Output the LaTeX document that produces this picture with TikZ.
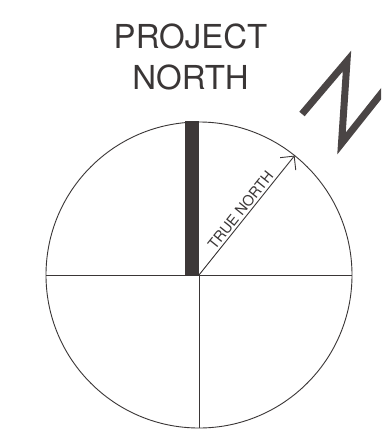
\documentclass[tikz,border=0pt]{standalone}
\usepackage{fontspec}
\setmainfont{TeX Gyre Heros}
\usetikzlibrary{arrows.meta}
\definecolor{ink}{HTML}{3A3636}
\definecolor{barink}{HTML}{3D3838}
\definecolor{nink}{HTML}{4A4545}
\tikzset{
  thinline/.style={draw=ink, line width=0.9pt},
  titletext/.style={text=ink, font=\fontsize{33}{41}\selectfont, inner sep=0pt},
  labeltext/.style={text=ink, font=\fontsize{14.5}{16}\selectfont, inner sep=2pt},
  bigN/.style={draw=nink, line width=7pt, line join=miter, miter limit=10, line cap=butt}
}
\begin{document}
\begin{tikzpicture}[x=1pt,y=-1pt]
\useasboundingbox (0,0) rectangle (381,440);
\fill[white] (0,0) rectangle (381,440);
\begin{scope}
\clip (0,0) rectangle (381,440);
% title
\node[titletext, anchor=base] (p1) at (190.5,48) {PROJECT};
\node[titletext, anchor=base] (p2) at (190.5,89) {NORTH};
% big N
\draw[bigN] (302,114) -- (347,61) -- (341.5,143.5) -- (388,85);
% circle and axes
\coordinate (c) at (199,275);
\coordinate (w) at (46,275);
\coordinate (e) at (352,275);
\coordinate (s) at (199,428);
\coordinate (tip) at (294.6,155.6);
\fill[barink] (185,121) rectangle (198.5,275);
\draw[thinline] (c) circle[radius=153pt];
\draw[thinline] (w) -- (e);
\draw[thinline] (c) -- (s);
\draw[thinline, -{Straight Barb[length=10pt,width=20pt]}] (c) -- (tip)
  node[labeltext, pos=0.5, sloped, above] (tn) {TRUE NORTH};
\end{scope}
\end{tikzpicture}
\end{document}
